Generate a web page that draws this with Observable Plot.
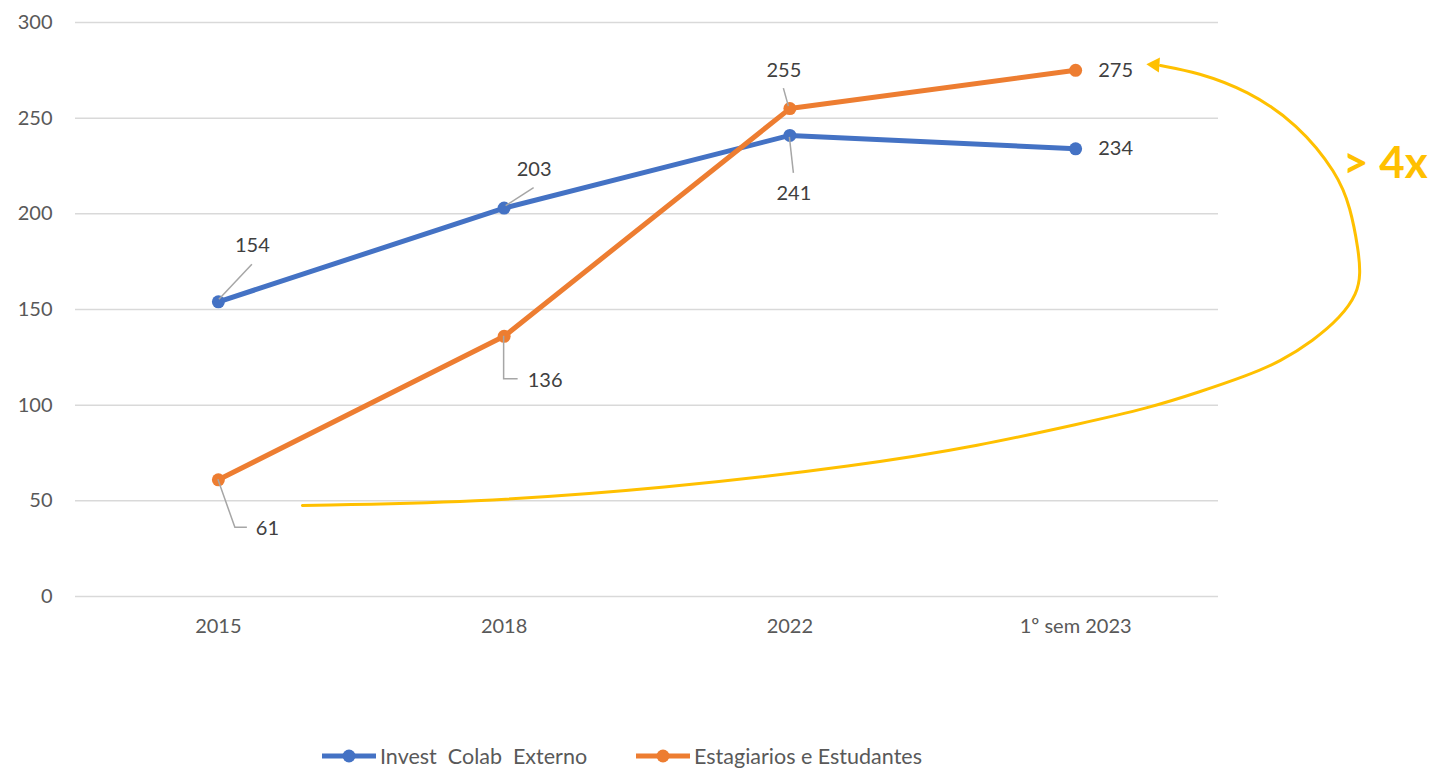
<!DOCTYPE html>
<html><head><meta charset="utf-8">
<script src="https://cdn.jsdelivr.net/npm/d3@7"></script>
<script src="https://cdn.jsdelivr.net/npm/@observablehq/plot@0.6"></script>
<style>
body{margin:0;background:#fff;font-family:Lato,"Open Sans",sans-serif;}
#chart{position:relative;width:1430px;height:769px;overflow:hidden;}
.leg{position:absolute;top:743px;display:flex;align-items:center;font-size:21.5px;color:#595959;white-space:pre;line-height:26px;}
.leg svg{margin-right:4px;}
</style></head><body>
<div id="chart"></div>
<script>
// ---- data ----
const categories = ["2015", "2018", "2022", "1º sem 2023"];
const seriesNames = ["Invest  Colab  Externo", "Estagiarios e Estudantes"];
const investValues = [154, 203, 241, 234];
const estagValues = [61, 136, 255, 275];
const yTicks = [0, 50, 100, 150, 200, 250, 300];
// annotation arrow path (x in category index units, y in chart units)
const arrowX = [0.294, 0.886, 1.558, 2.247, 2.667, 3.017, 3.252, 3.437, 3.601, 3.717, 3.832, 3.927, 3.986, 3.997, 3.990, 3.962, 3.916, 3.776, 3.601, 3.427, 3.297];
const arrowY = [47.6, 49.1, 56.4, 68.5, 78.9, 90.4, 98.3, 107.1, 115.5, 122.8, 133.8, 145.8, 158.4, 168.8, 180.8, 203.3, 221.1, 247.2, 264.5, 273.9, 277.5];
const arrowHead = {x: 3.278, y: 277.9};
const multiplierLabel = "> 4x";
const multiplierPos = {x: 4.084, y: 226.3};

// ---- styling / layout ----
const colors = ["#4472C4", "#ED7D31"];
const seriesValues = [investValues, estagValues];
// label layout: series index, category index, text offset, leader polyline offsets (pixels)
const labelLayout = [
  {s: 0, i: 0, dx: 34, dy: -56, leader: [[1, -2], [34, -37]]},
  {s: 0, i: 1, dx: 30, dy: -38, leader: [[2, -2], [30, -20]]},
  {s: 0, i: 2, dx: 4, dy: 58, leader: [[0, 2], [4, 38]]},
  {s: 0, i: 3, dx: 40, dy: 0},
  {s: 1, i: 0, dx: 49, dy: 49, leader: [[0, 0], [17, 48], [29, 48]]},
  {s: 1, i: 1, dx: 41, dy: 44, leader: [[0, 0], [0, 43], [14, 43]]},
  {s: 1, i: 2, dx: -6, dy: -38, leader: [[-1, -2], [-6, -20]]},
  {s: 1, i: 3, dx: 40, dy: 0}
];

const rows = seriesNames.flatMap((s, k) => categories.map((c, i) => ({i, cat: c, series: s, value: seriesValues[k][i]})));
const arrow = arrowX.map((x, j) => ({x, y: arrowY[j]}));

function leaderMark(index, scales) {
  const g = d3.create("svg:g").attr("fill", "none").attr("stroke", "#a6a6a6").attr("stroke-width", 1.5);
  for (const L of labelLayout) {
    if (!L.leader) continue;
    const px = scales.x(L.i), py = scales.y(seriesValues[L.s][L.i]);
    g.append("path").attr("d", d3.line()(L.leader.map(([a, b]) => [px + a, py + b])));
  }
  return g.node();
}

const labelMarks = labelLayout.map(L => Plot.text([{i: L.i, v: seriesValues[L.s][L.i]}], {
  x: "i", y: "v", text: d => String(d.v), dx: L.dx, dy: L.dy, fill: "#404040", fontSize: 20
}));

const chart = Plot.plot({
  width: 1430, height: 740,
  marginLeft: 75, marginRight: 212, marginTop: 22, marginBottom: 144,
  style: {fontFamily: "Lato, 'Open Sans', sans-serif", fontSize: "20px", color: "#595959", background: "transparent", overflow: "visible"},
  x: {type: "linear", domain: [-0.5, 3.5]},
  y: {domain: [0, 300]},
  color: {domain: seriesNames, range: colors},
  marks: [
    Plot.gridY(yTicks, {stroke: "#d9d9d9", strokeOpacity: 1, strokeWidth: 1.5}),
    Plot.axisY(yTicks, {tickSize: 0, tickPadding: 23, label: null, fill: "#595959", fontSize: 20}),
    Plot.axisX([0, 1, 2, 3], {tickSize: 0, tickPadding: 22, tickFormat: i => categories[i], label: null, fill: "#595959", fontSize: 20}),
    Plot.line(rows, {x: "i", y: "value", z: "series", stroke: "series", strokeWidth: 5}),
    Plot.dot(rows, {x: "i", y: "value", fill: "series", r: 6.5}),
    leaderMark,
    ...labelMarks,
    Plot.line(arrow, {x: "x", y: "y", stroke: "#FFC000", strokeWidth: 3, curve: "basis"}),
    Plot.dot([arrowHead], {x: "x", y: "y", symbol: "triangle", r: 5.6, rotate: -86, fill: "#FFC000", stroke: "none"}),
    Plot.text([multiplierPos], {x: "x", y: "y", text: () => multiplierLabel, fill: "#FFC000", fontSize: 44, fontWeight: "bold"})
  ]
});
const root = document.getElementById("chart");
root.appendChild(chart);

// legend
const legendLefts = [322, 636];
seriesNames.forEach((s, k) => {
  const item = document.createElement("div");
  item.className = "leg";
  item.style.left = legendLefts[k] + "px";
  item.innerHTML = `<svg width="54" height="14"><line x1="0" y1="7" x2="54" y2="7" stroke="${colors[k]}" stroke-width="5"/><circle cx="27" cy="7" r="6.5" fill="${colors[k]}"/></svg><span></span>`;
  item.querySelector("span").textContent = s;
  root.appendChild(item);
});
</script>
</body></html>
